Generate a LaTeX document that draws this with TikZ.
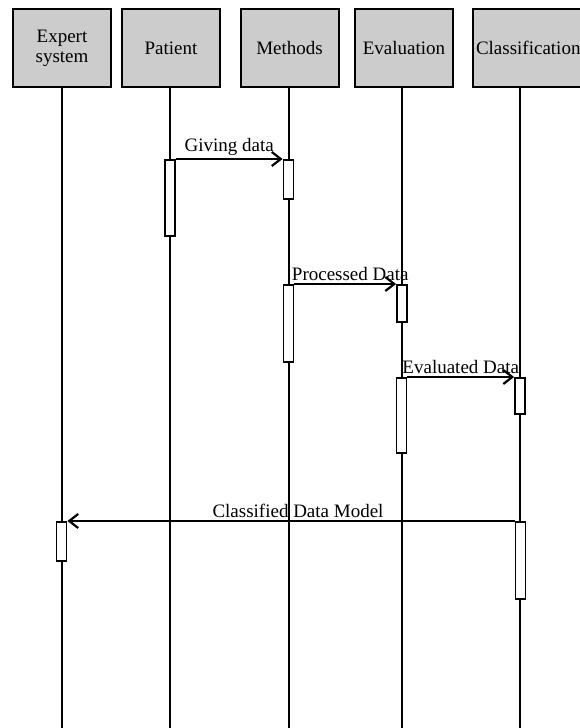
\documentclass[tikz,border=0pt]{standalone}
\usepackage{fontspec}
\setmainfont{Liberation Serif}
\usetikzlibrary{arrows.meta}
\begin{document}
\begin{tikzpicture}[x=1pt,y=-1pt,
  every node/.style={font=\fontsize{19}{20}\selectfont},
  objbox/.style={draw=black, line width=2pt, fill=black!20, minimum width=98pt, minimum height=78pt, inner sep=2pt, align=center, anchor=north},
  lifeline/.style={line width=2pt, black},
  act/.style={draw=black, line width=1.8pt, fill=white, minimum width=10pt, inner sep=0pt, anchor=north},
  msg/.style={line width=2pt, black, -{Straight Barb[length=9pt,width=14pt,line width=2.2pt]}},
  msglabel/.style={above, inner sep=2pt, black}
]
\useasboundingbox (0,0) rectangle (579,728);
% header boxes
\node[objbox] (es) at (62,8) {Expert\\system};
\node[objbox] (pt) at (171,8) {Patient};
\node[objbox] (me) at (289.5,8) {Methods};
\node[objbox] (ev) at (404,8) {Evaluation};
\node[objbox, anchor=north west, text width=118pt, align=left, inner xsep=3pt, minimum width=0pt] (cl) at (472,8) {Classification};
% lifeline ends
\coordinate (esE) at (62,728);
\coordinate (ptE) at (170,728);
\coordinate (meE) at (289,728);
\coordinate (evE) at (402,728);
\coordinate (clE) at (520,728);
\coordinate (esS) at (62,86);
\coordinate (ptS) at (170,86);
\coordinate (meS) at (289,86);
\coordinate (evS) at (402,86);
\coordinate (clS) at (520,86);
\draw[lifeline] (esS) -- (esE);
\draw[lifeline] (ptS) -- (ptE);
\draw[lifeline] (meS) -- (meE);
\draw[lifeline] (evS) -- (evE);
\draw[lifeline] (clS) -- (clE);
% activations
\node[act, minimum height=76pt] (pa1) at (170,159) {};
\node[act, minimum height=39pt] (ma1) at (288.5,159) {};
\node[act, minimum height=77pt] (ma2) at (288.5,284) {};
\node[act, minimum height=37pt] (ea1) at (402,284) {};
\node[act, minimum height=75pt] (ea2) at (401.5,377) {};
\node[act, minimum height=36pt] (ca1) at (520,377) {};
\node[act, minimum height=77pt] (ca2) at (520.5,521) {};
\node[act, minimum height=39pt] (xa1) at (61.5,521) {};
% messages
\draw[msg] (pa1.north east) -- (ma1.north west) node[msglabel, midway] {Giving data};
\draw[msg] (ma2.north east) -- (ea1.north west) node[msglabel, midway, xshift=5pt] {Processed Data};
\draw[msg] (ea2.north east) -- (ca1.north west) node[msglabel, midway] {Evaluated Data};
\draw[msg] (ca2.north west) -- (xa1.north east) node[msglabel, midway, xshift=7pt] {Classified Data Model};
\end{tikzpicture}
\end{document}
